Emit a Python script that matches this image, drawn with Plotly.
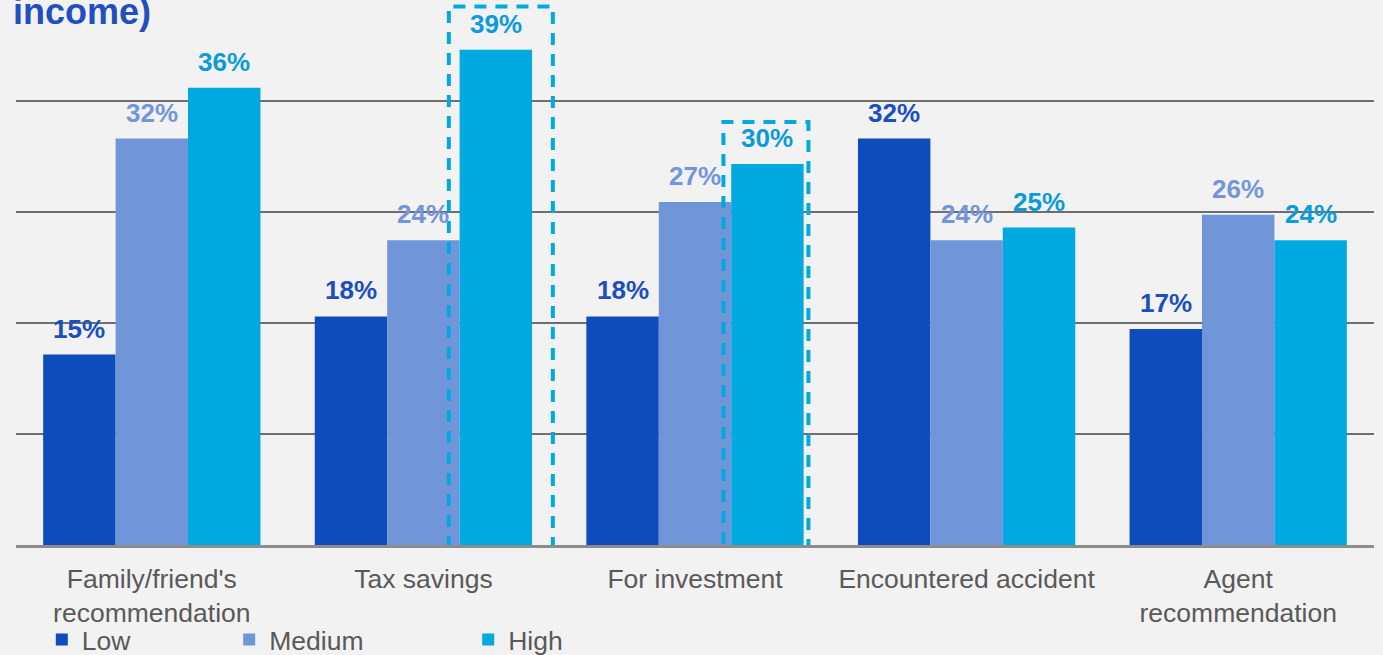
import plotly.graph_objects as go

# Reasons for buying insurance, split by income band (share of respondents, %)
categories = [
    "Family/friend's<br>recommendation",
    "Tax savings",
    "For investment",
    "Encountered accident",
    "Agent<br>recommendation",
]
low = [15, 18, 18, 32, 17]
medium = [32, 24, 27, 24, 26]
high = [36, 39, 30, 25, 24]

series = [
    ("Low", low, "#0E4BBB", "#1A4FC2"),
    ("Medium", medium, "#7095D9", "#7295DB"),
    ("High", high, "#00AAE0", "#0A9BDB"),
]

BG = "#F2F2F2"
TEXT_GREY = "#595959"
FONT = "Liberation Sans, Arial, sans-serif"

fig = go.Figure()
legend_ids = ["legend", "legend2", "legend3"]
for (name, vals, color, _), lg in zip(series, legend_ids):
    fig.add_trace(go.Bar(
        name=name, x=categories, y=vals,
        marker=dict(color=color, line=dict(width=0)),
        legend=lg,
    ))

# Value labels above each bar
n_series = len(series)
group_w = 0.8
bar_w = group_w / n_series
for s_idx, (name, vals, _, label_color) in enumerate(series):
    offset = -group_w / 2 + bar_w * (s_idx + 0.5)
    for c_idx, v in enumerate(vals):
        fig.add_annotation(
            x=c_idx + offset, y=v, xref="x", yref="y",
            text=f"<b>{v}%</b>", showarrow=False,
            yanchor="bottom", yshift=9,
            font=dict(family=FONT, size=26, color=label_color),
        )

# Dashed highlight boxes around the high-income bars for tax savings and investment
high_offset = -group_w / 2 + bar_w * 2.5
highlights = [
    # (category index, left pad, right pad, top value)
    (1, 0.173, 0.210, 42.4),
    (2, 0.162, 0.151, 33.3),
]
for c_idx, pad_l, pad_r, top in highlights:
    cx = c_idx + high_offset
    fig.add_shape(
        type="rect", xref="x", yref="y",
        x0=cx - pad_l, x1=cx + pad_r, y0=-0.4, y1=top,
        line=dict(color="#00AAE0", width=4, dash="12px,9px"),
        fillcolor="rgba(0,0,0,0)", layer="above",
    )

# Title fragment at top-left
fig.add_annotation(
    x=0, y=1 - 27 / 545, xref="paper", yref="paper",
    xanchor="left", yanchor="bottom", xshift=-5, yshift=-7,
    text="<b>income)</b>", showarrow=False,
    font=dict(family=FONT, size=36, color="#1F4FC1"),
)

legend_common = dict(
    orientation="h", yanchor="middle", y=-0.174, xanchor="left",
    font=dict(family=FONT, size=26.5, color=TEXT_GREY),
    bgcolor="rgba(0,0,0,0)", borderwidth=0,
    itemwidth=30, tracegroupgap=0,
)

fig.update_layout(
    width=1383, height=655,
    margin=dict(l=16, r=9, t=0, b=110, autoexpand=False),
    paper_bgcolor=BG, plot_bgcolor=BG,
    barmode="group", bargap=0.2, bargroupgap=0,
    showlegend=True,
    legend=dict(x=0.019, **legend_common),
    legend2=dict(x=0.157, **legend_common),
    legend3=dict(x=0.333, **legend_common),
    font=dict(family=FONT),
)

fig.update_xaxes(
    type="category", automargin=False,
    showline=True, linecolor="#8C8C8C", linewidth=3,
    showgrid=False, ticks="outside", ticklen=8, tickcolor="rgba(0,0,0,0)",
    tickfont=dict(family=FONT, size=26.5, color=TEXT_GREY),
)
fig.update_yaxes(
    automargin=False,
    range=[0, 545 / 12.7],
    tick0=0, dtick=8.75,
    showgrid=True, gridcolor="#6E6E6E", gridwidth=1.5,
    zeroline=False, showticklabels=False, ticks="",
)

fig.write_html("out.html")
